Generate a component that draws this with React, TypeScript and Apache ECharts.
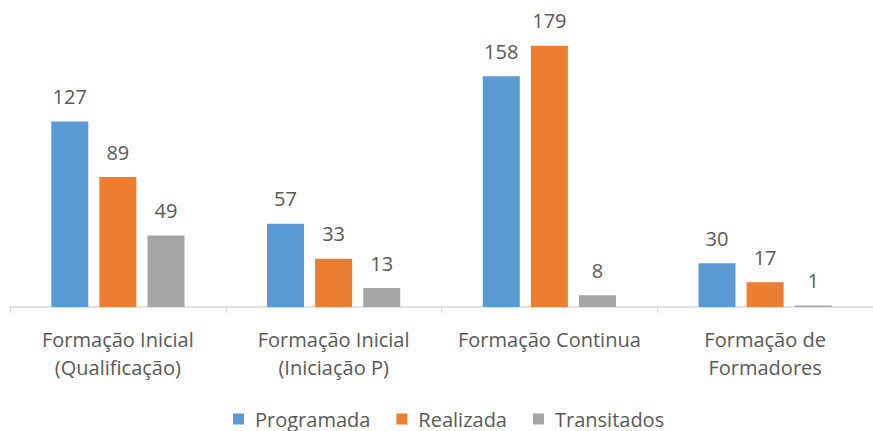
import React, { useEffect, useRef } from "react";
import * as echarts from "echarts";

const categories = [
  "Formação Inicial\n(Qualificação)",
  "Formação Inicial\n(Iniciação P)",
  "Formação Continua",
  "Formação de\nFormadores",
];
const programada = [127, 57, 158, 30];
const realizada = [89, 33, 179, 17];
const transitados = [49, 13, 8, 1];

const FONT = "Open Sans";
const TXT = "#595959";
const FS = 20;

export default function App() {
  const ref = useRef<HTMLDivElement>(null);
  useEffect(() => {
    if (!ref.current) return;
    const chart = echarts.init(ref.current, null, { renderer: "svg" });
    const label = {
      show: true,
      position: "top" as const,
      distance: 15,
      color: TXT,
      fontSize: FS,
      fontFamily: FONT,
    };
    chart.setOption({
      animation: false,
      textStyle: { fontFamily: FONT },
      grid: { left: 10, right: 0, top: 15, bottom: 124, containLabel: false },
      legend: {
        bottom: -3,
        left: 228,
        itemWidth: 11,
        itemHeight: 11,
        itemGap: 26,
        icon: "rect",
        textStyle: { color: TXT, fontSize: FS, fontFamily: FONT, padding: [0, 0, 0, 6] },
        data: ["Programada", "Realizada", "Transitados"],
      },
      xAxis: {
        type: "category",
        data: categories,
        axisLine: { lineStyle: { color: "#d9d9d9", width: 1.5 } },
        axisTick: { show: true, length: 6, lineStyle: { color: "#d9d9d9" } },
        axisLabel: {
          color: TXT,
          fontSize: FS,
          fontFamily: FONT,
          lineHeight: 28,
          margin: 18,
          interval: 0,
        },
      },
      yAxis: {
        type: "value",
        min: 0,
        max: 200,
        show: false,
        splitLine: { show: false },
      },
      series: [
        {
          name: "Programada",
          type: "bar",
          data: programada,
          barWidth: 37,
          barGap: "30%",
          itemStyle: { color: "#5B9BD5" },
          label,
        },
        {
          name: "Realizada",
          type: "bar",
          data: realizada,
          barWidth: 37,
          barGap: "30%",
          itemStyle: { color: "#ED7D31" },
          label,
        },
        {
          name: "Transitados",
          type: "bar",
          data: transitados,
          barWidth: 37,
          barGap: "30%",
          itemStyle: { color: "#A5A5A5" },
          label,
        },
      ],
    });
    return () => chart.dispose();
  }, []);
  return <div ref={ref} style={{ width: 873, height: 431, position: "absolute", left: 0, top: 0 }} />;
}
